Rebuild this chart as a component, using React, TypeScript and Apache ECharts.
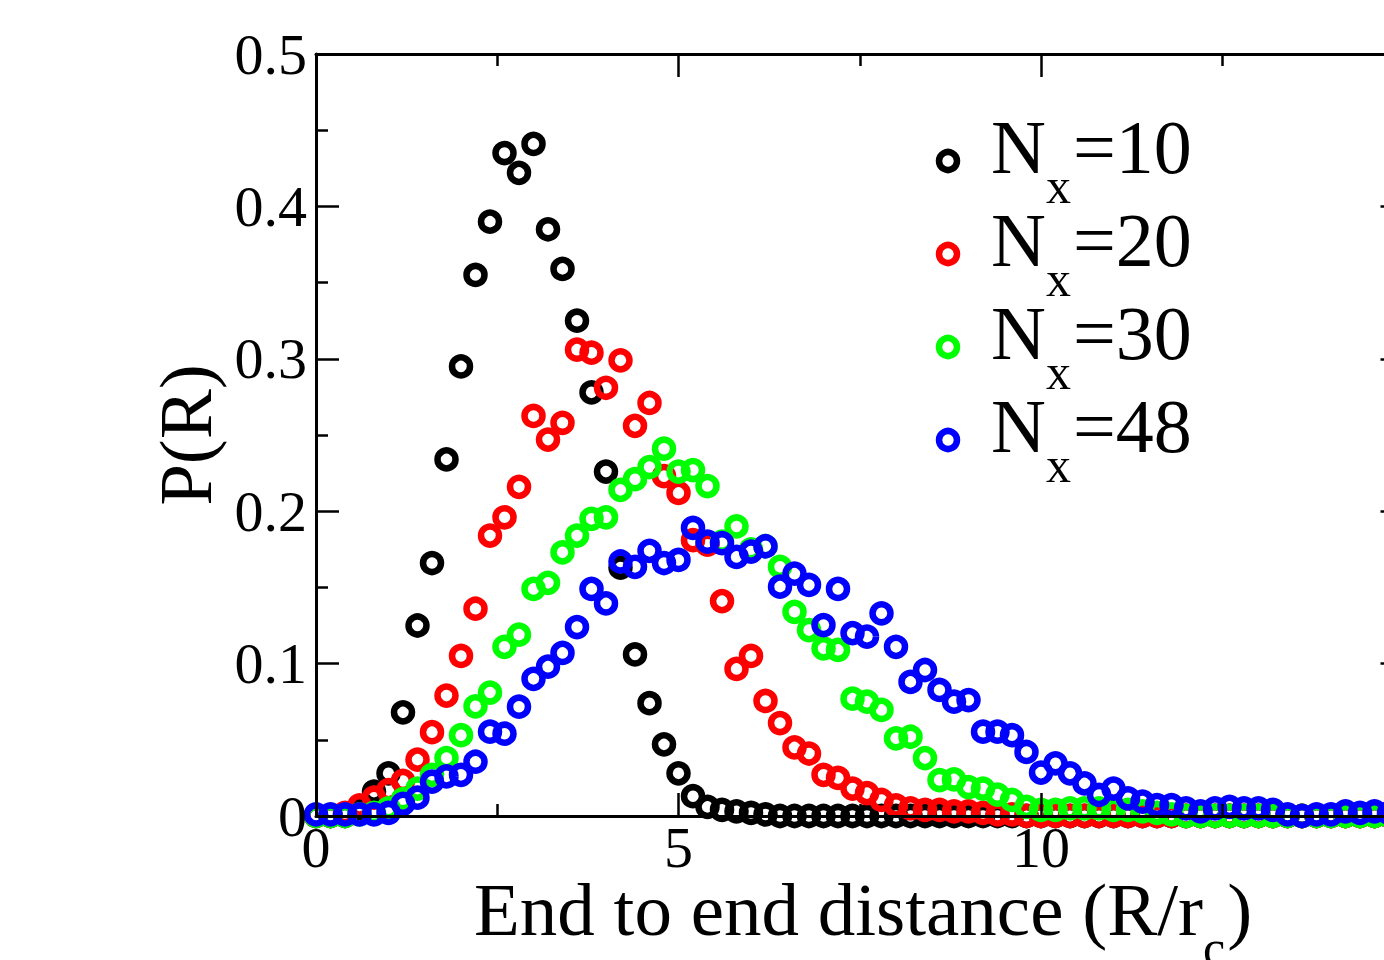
import React, { useEffect, useRef } from "react";
import * as echarts from "echarts";

// distance R/r_c (sample points)
const distance = [
  0.0, 0.2, 0.4, 0.6, 0.8, 1.0, 1.2, 1.4, 1.6, 1.8,
  2.0, 2.2, 2.4, 2.6, 2.8, 3.0, 3.2, 3.4, 3.6, 3.8,
  4.0, 4.2, 4.4, 4.6, 4.8, 5.0, 5.2, 5.4, 5.6, 5.8,
  6.0, 6.2, 6.4, 6.6, 6.8, 7.0, 7.2, 7.4, 7.6, 7.8,
  8.0, 8.2, 8.4, 8.6, 8.8, 9.0, 9.2, 9.4, 9.6, 9.8,
  10.0, 10.2, 10.4, 10.6, 10.8, 11.0, 11.2, 11.4, 11.6, 11.8,
  12.0, 12.2, 12.4, 12.6, 12.8, 13.0, 13.2, 13.4, 13.6, 13.8,
  14.0, 14.2, 14.4, 14.6, 14.8, 15.0,
];

const pNx10 = [
  0, 0, 0, 0.005, 0.016, 0.028, 0.068, 0.125, 0.166, 0.234,
  0.295, 0.355, 0.39, 0.435, 0.422, 0.441, 0.385, 0.359, 0.325, 0.278,
  0.226, 0.163, 0.106, 0.074, 0.047, 0.028, 0.013, 0.006, 0.004, 0.003,
  0.002, 0.001, 0, 0, 0, 0, 0, 0, 0, 0,
  0, 0, 0, 0, 0, 0, 0, 0, 0, 0,
  0, 0, 0, 0, 0, 0, 0, 0, 0, 0,
  0, 0, 0, 0, 0, 0, 0, 0, 0, 0,
  0, 0, 0, 0, 0, 0,
];

const pNx20 = [
  0, 0, 0.002, 0.007, 0.012, 0.017, 0.023, 0.037, 0.055, 0.079,
  0.105, 0.136, 0.184, 0.196, 0.216, 0.2625, 0.247, 0.258, 0.306, 0.304,
  0.281, 0.299, 0.256, 0.271, 0.223, 0.212, 0.181, 0.178, 0.141, 0.0965,
  0.105, 0.0755, 0.061, 0.045, 0.041, 0.027, 0.025, 0.018, 0.015, 0.0105,
  0.007, 0.005, 0.004, 0.004, 0.003, 0.003, 0.002, 0.001, 0.001, 0,
  0, 0, 0, 0, 0, 0, 0, 0, 0, 0,
  0, 0, 0, 0, 0, 0, 0, 0, 0, 0,
  0, 0, 0, 0, 0, 0,
];

const pNx30 = [
  0, 0, 0, 0.001, 0.002, 0.005, 0.011, 0.018, 0.027, 0.038,
  0.053, 0.072, 0.081, 0.111, 0.119, 0.149, 0.153, 0.173, 0.184, 0.195,
  0.196, 0.214, 0.221, 0.229, 0.241, 0.226, 0.227, 0.2165, 0.18, 0.19,
  0.175, 0.177, 0.1635, 0.134, 0.122, 0.11, 0.109, 0.077, 0.075, 0.0696,
  0.051, 0.052, 0.038, 0.0236, 0.024, 0.019, 0.018, 0.014, 0.0105, 0.006,
  0.004, 0.004, 0.005, 0.005, 0.005, 0.004, 0.004, 0.003, 0.002, 0.001,
  0, 0, 0, 0, 0, 0, 0, 0, 0, 0,
  0, 0, 0, 0, 0, 0,
];

const pNx48 = [
  0.001, 0.001, 0.001, 0.001, 0.001, 0.002, 0.008, 0.012, 0.0225, 0.026,
  0.027, 0.0356, 0.0553, 0.054, 0.0717, 0.09, 0.098, 0.107, 0.124, 0.149,
  0.1395, 0.167, 0.1635, 0.174, 0.166, 0.168, 0.189, 0.18, 0.179, 0.17,
  0.1735, 0.177, 0.1505, 0.159, 0.1516, 0.1253, 0.149, 0.12, 0.1177, 0.133,
  0.111, 0.088, 0.0958, 0.0827, 0.075, 0.0761, 0.0553, 0.0553, 0.053, 0.042,
  0.0285, 0.0346, 0.028, 0.0214, 0.0138, 0.018, 0.0116, 0.0094, 0.0072, 0.0072,
  0.005, 0.003, 0.005, 0.006, 0.005, 0.005, 0.004, 0.001, 0, 0.001,
  0.001, 0.003, 0.002, 0.003, 0.002, 0.002,
];

const seriesNames = ["Nx=10", "Nx=20", "Nx=30", "Nx=48"];
const legendNumbers = ["=10", "=20", "=30", "=48"];
const seriesColors = ["#000000", "#ff0000", "#00ff00", "#0000ff"];
const seriesValues = [pNx10, pNx20, pNx30, pNx48];

const xTitleMain = "End to end distance (R/r";
const xTitleSub = "c";
const xTitleEnd = ")";
const yTitle = "P(R)";

const FONT = '"Liberation Serif", "Times New Roman", Times, serif';

function textWidth(text: string, size: number): number {
  const ctx = document.createElement("canvas").getContext("2d");
  if (!ctx) return text.length * size * 0.5;
  ctx.font = `${size}px "Liberation Serif"`;
  return ctx.measureText(text).width;
}

// y position (for central baseline) such that alphabetic baseline lands at b
function yForBaseline(b: number, size: number): number {
  return b - 0.3375 * size;
}

export default function App() {
  const ref = useRef<HTMLDivElement>(null);

  useEffect(() => {
    if (!ref.current) return;
    const chart = echarts.init(ref.current, undefined, { renderer: "svg" });

    const gridLeft = 316;
    const gridTop = 54;
    const gridWidth = 1087.5;
    const gridHeight = 762;

    const axisCommon = {
      axisLine: { show: true, onZero: false, lineStyle: { color: "#000", width: 3 } },
      axisTick: { show: true, inside: true, length: 23, lineStyle: { color: "#000", width: 2.5 } },
      minorTick: { show: true, splitNumber: 2, length: 12, lineStyle: { color: "#000", width: 2.5 } },
      splitLine: { show: false },
      minorSplitLine: { show: false },
      z: 5,
    };

    const labelStyle = {
      color: "#000",
      fontFamily: FONT,
      fontSize: 58,
    };

    const LFS = 76; // legend font
    const TFS = 75; // axis title font
    const SFS = 50; // subscript font
    const graphics: any[] = [];

    // legend
    const nW = textWidth("N", LFS);
    const xW = textWidth("x", SFS);
    for (let i = 0; i < 4; i++) {
      const base = 173 + 93 * i;
      graphics.push({
        type: "circle",
        shape: { cx: 948, cy: 161 + 93 * i, r: 9 },
        style: { fill: "none", stroke: seriesColors[i], lineWidth: 6.5 },
        z: 10,
      });
      graphics.push({
        type: "text",
        x: 991,
        y: yForBaseline(base, LFS),
        style: { text: "N", font: `${LFS}px ${FONT}`, lineHeight: 60, fill: "#000", textAlign: "left", textVerticalAlign: "middle" },
        z: 10,
      });
      graphics.push({
        type: "text",
        x: 991 + nW,
        y: yForBaseline(base + 30, SFS),
        style: { text: "x", font: `${SFS}px ${FONT}`, lineHeight: 36, fill: "#000", textAlign: "left", textVerticalAlign: "middle" },
        z: 10,
      });
      graphics.push({
        type: "text",
        x: 991 + nW + xW + 2,
        y: yForBaseline(base, LFS),
        style: { text: legendNumbers[i], font: `${LFS}px ${FONT}`, lineHeight: 60, fill: "#000", textAlign: "left", textVerticalAlign: "middle" },
        z: 10,
      });
    }

    // x title
    const xtX = 474;
    const xtBase = 935;
    const mainW = textWidth(xTitleMain, TFS);
    const subW = textWidth(xTitleSub, SFS);
    graphics.push({
      type: "text",
      x: xtX,
      y: yForBaseline(xtBase, TFS),
      style: { text: xTitleMain, font: `${TFS}px ${FONT}`, lineHeight: 60, fill: "#000", textAlign: "left", textVerticalAlign: "middle" },
    });
    graphics.push({
      type: "text",
      x: xtX + mainW,
      y: yForBaseline(xtBase + 30, SFS),
      style: { text: xTitleSub, font: `${SFS}px ${FONT}`, lineHeight: 30, fill: "#000", textAlign: "left", textVerticalAlign: "middle" },
    });
    graphics.push({
      type: "text",
      x: xtX + mainW + subW + 2,
      y: yForBaseline(xtBase, TFS),
      style: { text: xTitleEnd, font: `${TFS}px ${FONT}`, lineHeight: 60, fill: "#000", textAlign: "left", textVerticalAlign: "middle" },
    });

    // y title (rotated)
    graphics.push({
      type: "text",
      x: 185,
      y: 435,
      rotation: Math.PI / 2,
      style: { text: yTitle, font: `${TFS}px ${FONT}`, lineHeight: 60, fill: "#000", textAlign: "center", textVerticalAlign: "middle" },
    });

    chart.setOption({
      animation: false,
      backgroundColor: "#ffffff",
      grid: { left: gridLeft, top: gridTop, width: gridWidth, height: gridHeight, containLabel: false },
      xAxis: [
        {
          type: "value",
          position: "bottom",
          min: 0,
          max: 15,
          interval: 5,
          ...axisCommon,
          axisLabel: { ...labelStyle, lineHeight: 46, margin: 8, showMaxLabel: false },
        },
        {
          type: "value",
          position: "top",
          min: 0,
          max: 15,
          interval: 5,
          ...axisCommon,
          axisLabel: { show: false },
        },
      ],
      yAxis: [
        {
          type: "value",
          position: "left",
          min: 0,
          max: 0.5,
          interval: 0.1,
          ...axisCommon,
          axisLabel: { ...labelStyle, margin: 9 },
        },
        {
          type: "value",
          position: "right",
          min: 0,
          max: 0.5,
          interval: 0.1,
          ...axisCommon,
          axisLabel: { show: false },
        },
      ],
      graphic: graphics,
      series: seriesValues.map((vals, i) => ({
        name: seriesNames[i],
        type: "scatter",
        xAxisIndex: 0,
        yAxisIndex: 0,
        clip: false,
        symbol: "circle",
        symbolSize: 18,
        z: 2 + i * 0.01,
        itemStyle: { color: "transparent", borderColor: seriesColors[i], borderWidth: 6.5, opacity: 1 },
        emphasis: { disabled: true },
        data: distance.map((x, j) => [x, vals[j]]),
      })),
    });

    return () => {
      chart.dispose();
    };
  }, []);

  return (
    <div
      ref={ref}
      style={{ position: "fixed", left: 0, top: 0, width: 1420, height: 960, background: "#fff" }}
    />
  );
}
